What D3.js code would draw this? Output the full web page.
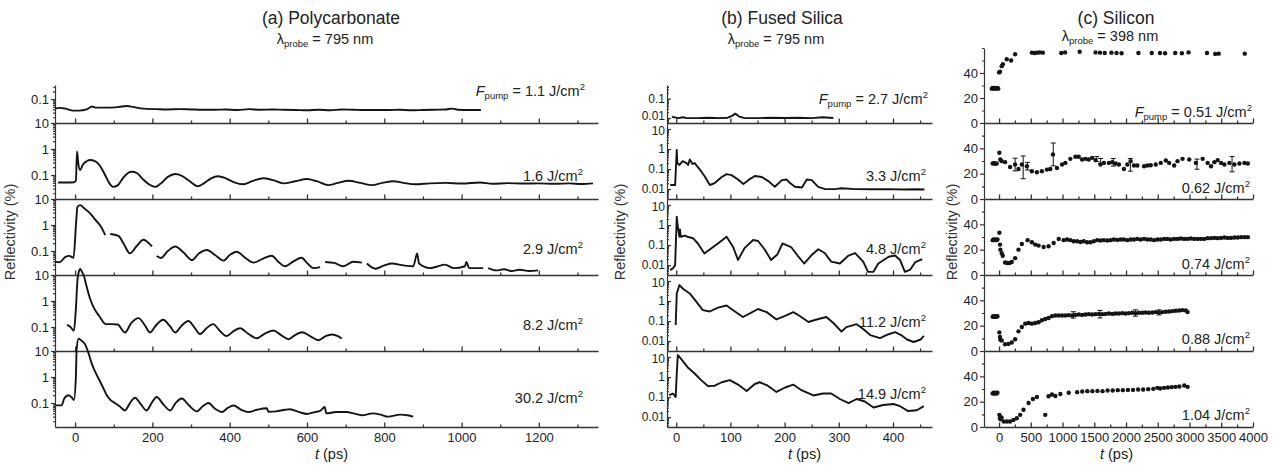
<!DOCTYPE html>
<html lang="en">
<head>
<meta charset="UTF-8">
<title>Transient reflectivity</title>
<script src="https://cdn.jsdelivr.net/npm/d3@7"></script>
<style>
  body { margin: 0; background: #fff; }
  svg { font-family: "Liberation Sans", Arial, sans-serif; }
</style>
</head>
<body>
<svg id="chart" width="1274" height="466"></svg>
<script>
// ---- data: [t (ps), reflectivity (%)], null = gap in trace ----
// (a) polycarbonate
const pc11 = [[-52,0.044],[-40,0.046],[-25,0.043],[-5,0.036],[10,0.036],[30,0.040],[44,0.052],[55,0.047],[80,0.047],[105,0.048],[120,0.052],[134,0.054],[150,0.050],[170,0.044],[185,0.042],[210,0.041],[240,0.040],[270,0.041],[300,0.040],[330,0.039],[360,0.039],[390,0.040],[420,0.038],[450,0.041],[480,0.039],[510,0.040],[540,0.039],[570,0.038],[600,0.037],[630,0.039],[660,0.037],[690,0.040],[720,0.039],[750,0.038],[780,0.038],[810,0.038],[840,0.039],[870,0.037],[900,0.038],[930,0.039],[960,0.040],[975,0.043],[990,0.039],[1020,0.038],[1050,0.038]];
const pc16 = [[-44,0.052],[-20,0.052],[-3,0.053],[2,0.06],[5,0.8],[8,0.3],[13,0.155],[20,0.25],[30,0.34],[39,0.38],[50,0.35],[62,0.25],[75,0.12],[88,0.05],[98,0.035],[110,0.04],[125,0.08],[137,0.12],[147,0.134],[160,0.12],[175,0.07],[190,0.045],[207,0.035],[220,0.045],[240,0.085],[259,0.109],[275,0.095],[295,0.06],[318,0.037],[335,0.05],[352,0.075],[370,0.09],[390,0.075],[412,0.052],[435,0.044],[460,0.06],[487,0.075],[510,0.065],[539,0.048],[570,0.058],[600,0.070],[625,0.058],[655,0.041],[680,0.05],[708,0.060],[738,0.05],[768,0.041],[795,0.05],[824,0.058],[850,0.05],[880,0.044],[918,0.048],[960,0.05],[1000,0.047],[1048,0.052],[1080,0.046],[1120,0.049],[1160,0.047],[1200,0.048],[1240,0.046],[1280,0.048],[1310,0.045],[1340,0.048]];
const pc29 = [[-52,0.039],[-40,0.037],[-25,0.06],[-15,0.065],[-4,0.055],[3,1.5],[6,5],[13,5.8],[25,4.2],[39,2.8],[52,1.6],[65,0.95],[78,0.41],null,
  [91,0.45],[112,0.38],[125,0.2],[142,0.081],[160,0.16],[177,0.27],[188,0.22],[199,0.15],null,
  [211,0.064],[222,0.054],[240,0.1],[259,0.15],[280,0.09],[302,0.045],[320,0.08],[341,0.11],[362,0.07],[384,0.043],[400,0.07],[418,0.094],[440,0.055],[462,0.036],[485,0.05],[509,0.066],[525,0.04],[543,0.026],[565,0.04],[586,0.055],[600,0.035],[617,0.022],[634,0.024],null,
  [647,0.038],[670,0.035],[694,0.026],[720,0.039],[742,0.036],null,
  [755,0.033],[777,0.021],[800,0.028],[820,0.033],[850,0.028],[875,0.026],[885,0.08],[890,0.033],[918,0.022],[935,0.025],[957,0.03],[980,0.022],[1009,0.026],[1012,0.038],[1020,0.022],[1056,0.022],null,
  [1069,0.022],[1090,0.018],[1110,0.02],[1130,0.017],[1150,0.019],[1175,0.017],[1198,0.018]];
const pc82 = [[-21,0.12],[-12,0.1],[-3,0.072],[2,0.5],[6,6],[10,14],[13,17],[18,13],[22,10],[30,3.5],[39,1.2],[50,0.5],[62,0.27],[80,0.13],[95,0.13],[110,0.125],[129,0.062],[145,0.14],[164,0.22],[180,0.12],[194,0.062],[210,0.12],[228,0.19],[245,0.11],[259,0.062],[275,0.11],[293,0.17],[308,0.1],[323,0.054],[340,0.09],[357,0.13],[375,0.07],[392,0.045],[410,0.07],[427,0.09],[448,0.055],[470,0.037],[490,0.055],[513,0.074],[532,0.05],[552,0.034],[570,0.05],[587,0.063],[608,0.045],[630,0.031],[648,0.045],[664,0.052],[680,0.045],[690,0.036]];
const pc302 = [[-52,0.081],[-35,0.081],[-28,0.15],[-17,0.2],[-8,0.16],[-3,0.13],[2,1],[4,12],[9,30],[15,26],[26,18],[35,8],[44,3],[55,1.3],[65,0.66],[74,0.35],[82,0.2],[92,0.13],[103,0.1],[115,0.075],[129,0.052],[142,0.1],[155,0.16],[170,0.09],[185,0.052],[198,0.1],[211,0.17],[228,0.09],[246,0.052],[260,0.1],[276,0.15],[295,0.08],[315,0.048],[330,0.075],[345,0.1],[362,0.06],[380,0.045],[395,0.065],[410,0.08],[430,0.055],[448,0.045],[470,0.055],[496,0.063],[500,0.046],[520,0.048],[543,0.055],[556,0.058],[580,0.045],[600,0.038],[620,0.045],[634,0.05],[646,0.07],[650,0.04],[675,0.045],[703,0.045],[720,0.04],[742,0.034],[770,0.04],[790,0.036],[810,0.03],[841,0.036],[860,0.034],[875,0.03]];

// (b) fused silica
const fs27 = [[-8,0.012],[-4,0.011],[0,0.0105],[5,0.01],[12,0.011],[20,0.01],[40,0.01],[60,0.0105],[80,0.01],[95,0.0105],[103,0.013],[109,0.017],[116,0.012],[125,0.0102],[150,0.01],[175,0.0105],[200,0.0102],[225,0.0105],[250,0.01],[270,0.011],[290,0.0102]];
const fs33 = [[-11,0.016],[-2,0.016],[1,0.9],[2,0.2],[6,0.16],[12,0.25],[19,0.2],[22,0.16],[25,0.3],[30,0.18],[34,0.2],[43,0.1],[53,0.041],[62,0.016],[71,0.02],[84,0.04],[93,0.056],[102,0.05],[114,0.03],[124,0.018],[133,0.028],[145,0.045],[158,0.04],[170,0.025],[182,0.013],[195,0.028],[204,0.03],[210,0.02],[219,0.013],[232,0.012],[241,0.03],[250,0.028],[262,0.013],[275,0.01],[293,0.01],[305,0.011],[330,0.01],[360,0.0098],[390,0.01],[420,0.0095],[440,0.0098],[458,0.0095]];
const fs48 = [[-11,0.0056],[-6,0.007],[-2,0.01],[1,2.6],[3,0.8],[4,0.56],[6,0.26],[7,0.6],[8,0.3],[9,0.26],[15,0.3],[21,0.26],[31,0.22],[40,0.12],[52,0.038],[65,0.07],[77,0.12],[93,0.26],[105,0.08],[114,0.018],[126,0.07],[142,0.18],[151,0.16],[163,0.062],[175,0.018],[187,0.035],[196,0.12],[212,0.08],[224,0.03],[236,0.012],[249,0.03],[262,0.062],[274,0.04],[286,0.015],[302,0.012],[318,0.03],[330,0.04],[345,0.015],[354,0.0046],[364,0.0046],[373,0.012],[392,0.026],[404,0.03],[413,0.018],[422,0.0046],[432,0.006],[441,0.014],[454,0.02]];
const fs112 = [[-1,0.063],[1,2.4],[6,6.3],[13,4],[25,2.4],[37,0.93],[49,0.35],[62,0.3],[77,0.47],[93,0.6],[105,0.35],[123,0.16],[136,0.24],[151,0.4],[167,0.28],[185,0.12],[201,0.18],[216,0.28],[228,0.18],[244,0.09],[259,0.12],[277,0.16],[290,0.08],[305,0.03],[314,0.05],[333,0.07],[345,0.04],[358,0.02],[376,0.014],[392,0.022],[404,0.028],[415,0.02],[426,0.012],[438,0.009],[451,0.012],[457,0.018]];
const fs149 = [[-13,0.126],[-6,0.15],[-1,0.1],[1,1.5],[3,12.6],[9,8],[22,2.9],[34,1.5],[46,0.7],[59,0.35],[71,0.37],[84,0.55],[99,0.7],[114,0.42],[130,0.2],[145,0.45],[154,0.55],[167,0.4],[185,0.18],[201,0.3],[216,0.42],[231,0.22],[253,0.12],[271,0.15],[286,0.15],[302,0.08],[318,0.05],[333,0.08],[348,0.06],[364,0.03],[382,0.04],[401,0.045],[413,0.035],[428,0.02],[444,0.022],[457,0.035]];

// (c) silicon, measured points
const si051 = [[-115,27.5],[-100,28],[-85,27.5],[-70,28],[-55,27.5],[-40,27.8],[-25,28],[-12,27.5],[0,40.5],[16,41],[42,45.5],[60,47],[121,51],[190,50],[253,55],[517,56.3],[560,56],[600,56.3],[640,56.5],[690,56.3],[980,56],[1040,56.5],[1270,57],[1520,56.5],[1590,56.3],[1665,56],[1770,56.3],[1850,56],[1930,55.8],[2195,56],[2405,56],[2535,56],[2615,55.8],[2775,56],[2880,55.8],[2985,56.5],[3275,56],[3405,55.3],[3460,55.5],[3870,55.5]];
const si062 = [[-100,28],[-80,28.3],[-60,27.8],[-37,28],[5,36.5],[20,31.2],[42,29.9],[95,29.1],[174,25.3],[253,27.2],[306,23.7],[359,27.2],[438,25.9],[517,21.9],[596,21.1],[675,21.9],[754,23.2],[807,23.7],[849,35.2],[912,24.5],[992,27.2],[1044,28.5],[1123,31.7],[1203,33.3],[1255,33.3],[1308,31.2],[1361,31.7],[1413,31.2],[1466,32.5],[1519,30.7],[1598,27.2],[1651,28.5],[1730,28.5],[1783,29.1],[1835,28],[1888,27.2],[1967,23.7],[2020,27.2],[2073,29.9],[2125,26.4],[2178,26.4],[2284,25.9],[2336,26.4],[2389,26.7],[2468,27.2],[2547,28.5],[2627,30.4],[2679,28.5],[2758,26.4],[2811,29.9],[2890,31.7],[2996,31.2],[3101,28.5],[3207,31.7],[3286,28.5],[3339,25.9],[3391,29.1],[3444,30.7],[3497,28.5],[3549,27.2],[3628,28.5],[3707,27.2],[3786,28],[3865,28.5],[3919,28]];
const si062err = [[253,27.2,5],[380,25,9],[448,25.9,3],[854,35.2,9],[1540,31.5,2],[1600,30,2],[1800,29,3],[2068,27,5],[3117,27.5,4],[3670,27.5,6]];
const si074 = [[-100,27.5],[-85,28],[-70,27.5],[-55,28],[-40,27.5],[-25,28],[5,33.3],[15,24],[21,20],[42,17.3],[58,15.2],[95,9.9],[130,9.5],[163,9.5],[200,10.3],[253,13.3],[306,20],[359,24.5],[450,27.5],[517,25.9],[570,24],[623,23.2],[702,22.1],[780,22.7],[860,25.3],[940,28.5],[1018,27.5],[1071,28],[1123,27.5],[1176,26.7],[1229,26.7],[1282,26.1],[1334,26.7],[1387,25.9],[1440,25.9],[1493,26.7],[1545,27.5],[1598,27.2],[1651,27.5],[1704,27.2],[1756,27.5],[1809,28],[1862,27.7],[1915,28],[1967,28],[2020,27.5],[2073,28],[2125,28],[2178,28.5],[2231,28],[2284,28.5],[2336,28],[2389,28],[2442,27.5],[2494,28],[2547,28],[2600,28.5],[2652,28.5],[2705,28],[2758,28.5],[2811,28.5],[2863,28.8],[2916,28.5],[2969,28.5],[3021,28.8],[3074,28.5],[3127,28.5],[3180,28.5],[3232,28.5],[3285,29.1],[3338,29.1],[3390,29.3],[3443,29.1],[3496,29.3],[3549,29.6],[3601,29.3],[3654,29.3],[3707,29.6],[3760,29.6],[3812,29.9],[3865,29.9],[3918,29.9]];
const si088 = [[-100,27],[-85,27.5],[-70,27],[-55,27.5],[-40,27],[-25,27.5],[5,14.7],[15,11],[21,8.8],[42,8.3],[95,5.3],[148,5.6],[200,6.7],[253,9.3],[306,15.5],[359,18.9],[412,21.6],[465,22.1],[517,21.6],[570,22.1],[623,22.7],[675,24.3],[728,25.3],[780,26.1],[833,27.5],[886,28],[940,28],[993,28],[1045,28],[1098,28.3],[1150,28],[1203,28.5],[1256,28.8],[1308,28.5],[1361,28.8],[1414,29.1],[1466,28.8],[1519,29.1],[1572,29.3],[1625,29.1],[1677,29.3],[1730,29.6],[1783,29.3],[1835,29.6],[1888,29.6],[1941,29.9],[1993,29.6],[2046,29.9],[2099,30.2],[2151,29.9],[2204,30.2],[2257,30.2],[2310,30.4],[2362,30.2],[2415,30.4],[2468,30.7],[2520,30.4],[2573,30.7],[2626,31],[2678,31.2],[2731,31.5],[2784,31.8],[2837,32],[2889,32.3],[2942,32],[2970,30.7]];
const si088err = [[1170,28.5,2.5],[1590,29.1,3],[2150,30,2.5],[2520,30.5,2]];
const si104 = [[-100,26.5],[-85,27],[-70,26.5],[-55,27],[-40,26.5],[-25,27],[5,9.6],[15,6.9],[21,6.1],[40,7.5],[74,4.3],[124,4.3],[174,4.3],[227,5.6],[280,6.9],[333,9.6],[385,13.6],[465,18.9],[533,22.1],[596,23.7],[728,9.6],[780,24.3],[833,25.6],[886,24.5],[966,26.1],[1097,27],[1230,27.5],[1310,28],[1390,28.3],[1470,28.3],[1550,28.5],[1630,28.3],[1710,28.8],[1790,28.8],[1870,29.1],[1950,29.1],[2030,29.3],[2110,29.3],[2190,29.6],[2270,29.6],[2350,29.9],[2430,30.1],[2494,30.9],[2540,30.4],[2600,30.9],[2660,31.2],[2720,31.5],[2780,31.7],[2840,32],[2917,32.8],[2970,31.7]];

// fluence labels and tick values
const pcFluence = ["1.1", "1.6", "2.9", "8.2", "30.2"];
const fsFluence = ["2.7", "3.3", "4.8", "11.2", "14.9"];
const siFluence = ["0.51", "0.62", "0.74", "0.88", "1.04"];
const pcTicks = [0, 200, 400, 600, 800, 1000, 1200];
const fsTicks = [0, 100, 200, 300, 400];
const siTicks = [0, 500, 1000, 1500, 2000, 2500, 3000, 3500, 4000];
const siYTicks = [0, 20, 40];

const svg = d3.select("#chart");
const ink = "#141414";

// row boundaries (px) shared by all three panels
const rowY = [123, 199, 275, 351, 427];

const panels = [
  { title: "(a) Polycarbonate", probe: "795", cx: 331,
    xr: [55, 598], xd: [-52, 1353], ticks: pcTicks, step: 100,
    top: 85, firstDom: [0.012, 0.35], dom: [0.012, 10], log: true, tickIn: false, smooth: true,
    series: [pc11, pc16, pc29, pc82, pc302], fluence: pcFluence, tickFont: 13,
    labelX: 583, labelY: [96, 181, 254, 330, 403], firstLabelX: 585, ylab: 15 },
  { title: "(b) Fused Silica", probe: "795", cx: 782,
    xr: [667, 932], xd: [-17, 472], ticks: fsTicks, step: 50,
    top: 85, firstDom: [0.0056, 0.5], dom: [0.0032, 20], log: true, tickIn: true, smooth: false,
    series: [fs27, fs33, fs48, fs112, fs149], fluence: fsFluence, tickFont: 12,
    labelX: 926, labelY: [104, 181, 254, 327, 399], firstLabelX: 928, ylab: 625 },
  { title: "(c) Silicon", probe: "398", cx: 1116,
    xr: [984, 1253], xd: [-237, 4000], ticks: siTicks, step: 250,
    top: 48, firstDom: [0, 60], dom: [0, 60], log: false, tickIn: false,
    series: [si051, si062, si074, si088, si104], errs: [null, si062err, null, si088err, null],
    fluence: siFluence, tickFont: 13,
    labelX: 1250, labelY: [117, 193, 269, 344, 420], firstLabelX: 1252, ylab: 957 }
];

function minorLog(dom) {
  const out = [];
  for (let e = -4; e <= 2; e++)
    for (let k = 2; k <= 9; k++) {
      const v = k * Math.pow(10, e);
      if (v > dom[0] * 1.001 && v < dom[1] * 0.999) out.push(v);
    }
  return out;
}

function fluenceText(g, x, y, value, first) {
  const t = g.append("text").attr("x", x).attr("y", y)
    .attr("text-anchor", "end").attr("font-size", 14.5).attr("fill", "#222");
  if (first) {
    t.append("tspan").attr("font-style", "italic").text("F");
    t.append("tspan").attr("font-size", 9.5).attr("dy", 3).text("pump");
    t.append("tspan").attr("dy", -3).text(" = " + value + " J/cm");
  } else {
    t.append("tspan").text(value + " J/cm");
  }
  t.append("tspan").attr("font-size", 9.5).attr("dy", -6).text("2");
}

panels.forEach(p => {
  const g = svg.append("g");
  const x = d3.scaleLinear().domain(p.xd).range(p.xr);

  // titles
  g.append("text").attr("x", p.cx).attr("y", 24).attr("text-anchor", "middle")
    .attr("font-size", 17.5).attr("fill", "#222").text(p.title);
  const lam = g.append("text").attr("x", p.cx - 6).attr("y", p.log ? 44 : 41)
    .attr("text-anchor", "middle").attr("font-size", 14.5).attr("fill", "#222");
  lam.append("tspan").text("λ");
  lam.append("tspan").attr("font-size", 9.5).attr("dy", 3).text("probe");
  lam.append("tspan").attr("dy", -3).text(" = " + p.probe + " nm");

  const minorX = d3.range(Math.ceil(p.xd[0] / p.step) * p.step, p.xd[1], p.step)
    .filter(v => !p.ticks.includes(v));

  p.series.forEach((data, i) => {
    const top = i === 0 ? p.top : rowY[i - 1];
    const bottom = rowY[i];
    const dom = i === 0 ? p.firstDom : p.dom;
    const y = (p.log ? d3.scaleLog() : d3.scaleLinear()).domain(dom).range([bottom, top]);
    const last = i === p.series.length - 1;

    // y axis
    let major, minor;
    if (p.log) {
      major = [10, 1, 0.1, 0.01].filter(v => v >= dom[0] && v <= dom[1]);
      minor = minorLog(dom);
    } else {
      major = siYTicks;
      minor = [10, 30, 50, 60];
    }
    const inner = p.tickIn ? -4 : 4;
    g.append("g").attr("transform", `translate(${p.xr[0]},0)`)
      .call(d3.axisLeft(y).tickValues(minor).tickSize(p.tickIn ? -2 : 2).tickSizeOuter(0).tickFormat(""))
      .call(a => a.selectAll("line,path").attr("stroke", "#333").attr("stroke-width", 1.2));
    g.append("g").attr("transform", `translate(${p.xr[0]},0)`)
      .call(d3.axisLeft(y).tickValues(major).tickSize(inner).tickSizeOuter(0).tickPadding(2)
        .tickFormat(d3.format("~g")))
      .call(a => a.select(".domain").remove())
      .call(a => a.selectAll("line").attr("stroke", "#333").attr("stroke-width", 1.2))
      .call(a => a.selectAll("text").attr("font-size", p.tickFont).attr("fill", "#222")
        .attr("font-family", "Liberation Sans, Arial, sans-serif")
        // the fused silica labels sit tight at the row joins
        .attr("dy", d => p.tickIn && i === 0 && d === 0.01 ? "0.1em" : (p.tickIn && d === 10 ? "0.42em" : "0.32em")));

    // x axis on the row's lower edge, ticks pointing up
    g.append("g").attr("transform", `translate(0,${bottom})`)
      .call(d3.axisBottom(x).tickValues(minorX).tickSize(-2.5).tickSizeOuter(0).tickFormat(""))
      .call(a => a.selectAll("line,path").attr("stroke", "#333").attr("stroke-width", 1.3));
    g.append("g").attr("transform", `translate(0,${bottom})`)
      .call(d3.axisBottom(x).tickValues(p.ticks).tickSize(-4.5).tickSizeOuter(0).tickPadding(6)
        .tickFormat(last ? d3.format("d") : ""))
      .call(a => a.select(".domain").remove())
      .call(a => a.selectAll("line").attr("stroke", "#333").attr("stroke-width", 1.3))
      .call(a => a.selectAll("text").attr("font-size", 13).attr("fill", "#222")
        .attr("font-family", "Liberation Sans, Arial, sans-serif"));

    // marks
    if (p.log) {
      const line = d3.line().defined(d => d !== null)
        .x(d => x(d[0])).y(d => y(d[1]))
        .curve(p.smooth ? d3.curveMonotoneX : d3.curveLinear);
      g.append("path").datum(data).attr("d", line)
        .attr("fill", "none").attr("stroke", ink).attr("stroke-width", 1.9)
        .attr("stroke-linejoin", "round");
    } else {
      const errs = p.errs[i];
      if (errs) {
        const eb = g.append("g").attr("stroke", ink).attr("stroke-width", 1);
        errs.forEach(e => {
          const cx = x(e[0]), y0 = y(e[1] - e[2]), y1 = y(e[1] + e[2]);
          eb.append("line").attr("x1", cx).attr("x2", cx).attr("y1", y0).attr("y2", y1);
          eb.append("line").attr("x1", cx - 2.5).attr("x2", cx + 2.5).attr("y1", y0).attr("y2", y0);
          eb.append("line").attr("x1", cx - 2.5).attr("x2", cx + 2.5).attr("y1", y1).attr("y2", y1);
        });
      }
      g.append("g").selectAll("circle").data(data).join("circle")
        .attr("cx", d => x(d[0])).attr("cy", d => y(d[1])).attr("r", 2.2).attr("fill", ink);
    }

    fluenceText(g, i === 0 ? p.firstLabelX : p.labelX, p.labelY[i], p.fluence[i], i === 0);
  });

  // axis titles
  g.append("text").attr("transform", `translate(${p.ylab},232) rotate(-90)`)
    .attr("text-anchor", "middle").attr("font-size", 14.5).attr("fill", "#333")
    .text("Reflectivity (%)");
  const xt = g.append("text").attr("x", (p.xr[0] + p.xr[1]) / 2 + (p.log ? 5 : -2)).attr("y", 459)
    .attr("text-anchor", "middle").attr("font-size", 14.5).attr("fill", "#222");
  xt.append("tspan").attr("font-style", "italic").text("t");
  xt.append("tspan").text(" (ps)");
});
</script>
</body>
</html>
